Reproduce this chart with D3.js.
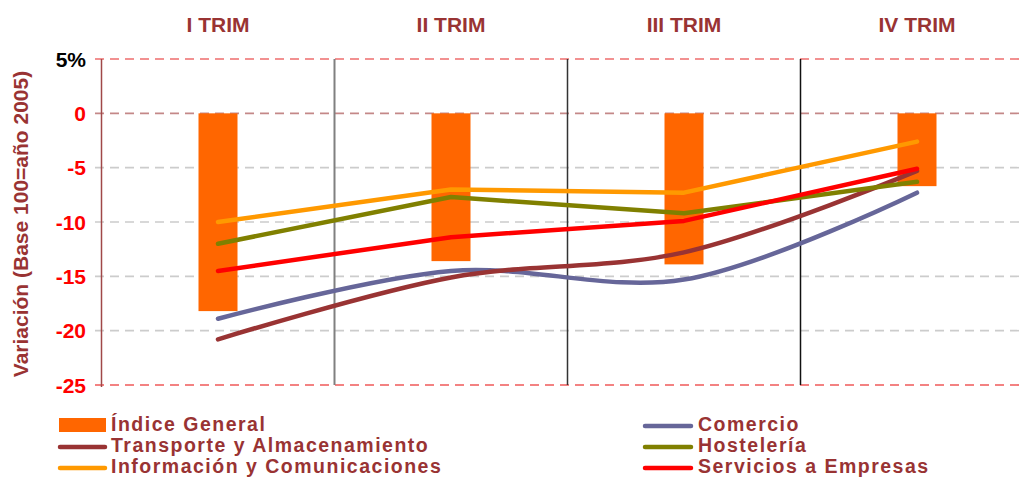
<!DOCTYPE html>
<html><head><meta charset="utf-8">
<script src="https://cdn.jsdelivr.net/npm/d3@7"></script>
<style>
html,body{margin:0;padding:0;background:#fff;}
svg{display:block;font-family:"Liberation Sans",Arial,sans-serif;font-weight:bold;}
</style></head>
<body>
<svg id="chart" width="1021" height="477"></svg>
<script>
const categories = ["I TRIM", "II TRIM", "III TRIM", "IV TRIM"];
const yTicks = [5, 0, -5, -10, -15, -20, -25];
const yTickLabels = ["5%", "0", "-5", "-10", "-15", "-20", "-25"];
const indiceGeneral = [-18.2, -13.6, -13.9, -6.7];
const comercio = [-18.9, -14.5, -15.3, -7.3];
const transporte = [-20.8, -15.1, -12.8, -5.3];
const hosteleria = [-12.0, -7.7, -9.2, -6.3];
const informacion = [-10.0, -7.0, -7.3, -2.6];
const servicios = [-14.5, -11.4, -9.9, -5.1];
const yTitle = "Variación (Base 100=año 2005)";

const series = [
  {name: "Comercio", values: comercio, color: "#666699", smooth: true},
  {name: "Transporte y Almacenamiento", values: transporte, color: "#993333", smooth: true},
  {name: "Hostelería", values: hosteleria, color: "#808000", smooth: false},
  {name: "Información y Comunicaciones", values: informacion, color: "#FF9900", smooth: false},
  {name: "Servicios a Empresas", values: servicios, color: "#FF0000", smooth: false}
];

const svg = d3.select("#chart");
const left = 101.5, bandW = 233;
const x = d3.scaleBand().domain(categories).range([left, left + bandW * categories.length]);
const y = d3.scaleLinear().domain([-25, 5]).range([385, 59]);
const cx = c => x(c) + x.bandwidth() / 2;

// gridlines
const gridColor = v => v === 5 ? "#EE6E6E" : v === 0 ? "#C48888" : v === -25 ? "#F05A5A" : "#CCCCCC";
svg.append("g").selectAll("line").data(yTicks).join("line")
  .attr("x1", 95).attr("x2", 1021)
  .attr("y1", d => y(d)).attr("y2", d => y(d))
  .attr("stroke", d => gridColor(d)).attr("stroke-width", 1.6)
  .attr("stroke-dasharray", "9,6");

// category separators
const sepColors = ["#808080", "#333333", "#111111"];
svg.append("g").selectAll("line").data(categories.slice(1)).join("line")
  .attr("x1", d => x(d)).attr("x2", d => x(d))
  .attr("y1", y(5)).attr("y2", y(-25))
  .attr("stroke", (d, i) => sepColors[i]).attr("stroke-width", (d, i) => i === 0 ? 2 : 1.5);

// y axis line
svg.append("line").attr("x1", left).attr("x2", left).attr("y1", y(5)).attr("y2", y(-25) + 2)
  .attr("stroke", "#A04848").attr("stroke-width", 1.5);

// tick labels
svg.append("g").selectAll("text").data(yTicks).join("text")
  .attr("x", 86).attr("y", d => y(d)).attr("dy", "0.36em")
  .attr("text-anchor", "end").attr("font-size", 21)
  .attr("fill", (d, i) => i === 0 ? "#000000" : "#FF0000")
  .text((d, i) => yTickLabels[i]);

// y title
svg.append("text").attr("transform", "translate(28,224) rotate(-90)")
  .attr("text-anchor", "middle").attr("font-size", 21).attr("fill", "#993333")
  .text(yTitle);

// top category labels
svg.append("g").selectAll("text").data(categories).join("text")
  .attr("x", d => cx(d)).attr("y", 31.5).attr("text-anchor", "middle")
  .attr("font-size", 21).attr("fill", "#993333").text(d => d);

// bars
const barW = 39;
svg.append("g").selectAll("rect").data(categories).join("rect")
  .attr("x", d => cx(d) - barW / 2).attr("width", barW)
  .attr("y", y(0)).attr("height", (d, i) => y(indiceGeneral[i]) - y(0))
  .attr("fill", "#FF6600");

// lines
series.forEach(s => {
  const line = d3.line()
    .x((d, i) => cx(categories[i])).y(d => y(d))
    .curve(s.smooth ? d3.curveCatmullRom.alpha(0.5) : d3.curveLinear);
  svg.append("path").datum(s.values).attr("d", line)
    .attr("fill", "none").attr("stroke", s.color).attr("stroke-width", 4.5)
    .attr("stroke-linecap", "round").attr("stroke-linejoin", "round");
});

// legend
const legendItems = [
  {name: "Índice General", type: "bar", color: "#FF6600", col: 0, row: 0},
  {name: "Transporte y Almacenamiento", type: "line", color: "#993333", col: 0, row: 1},
  {name: "Información y Comunicaciones", type: "line", color: "#FF9900", col: 0, row: 2},
  {name: "Comercio", type: "line", color: "#666699", col: 1, row: 0},
  {name: "Hostelería", type: "line", color: "#808000", col: 1, row: 1},
  {name: "Servicios a Empresas", type: "line", color: "#FF0000", col: 1, row: 2}
];
const colX = [[59, 106, 111], [644, 692, 698]];
const rowBase = [431, 452, 473];
const lg = svg.append("g");
legendItems.forEach(it => {
  const cxs = colX[it.col], b = rowBase[it.row];
  if (it.type === "bar") {
    lg.append("rect").attr("x", cxs[0]).attr("y", b - 13).attr("width", cxs[1] - cxs[0]).attr("height", 14)
      .attr("fill", it.color);
  } else {
    lg.append("line").attr("x1", cxs[0] + 1).attr("x2", cxs[1] - 1).attr("y1", b - 5).attr("y2", b - 5)
      .attr("stroke", it.color).attr("stroke-width", 4.5).attr("stroke-linecap", "round");
  }
  lg.append("text").attr("x", cxs[2]).attr("y", b).attr("font-size", 19.5)
    .attr("letter-spacing", "1.5px").attr("fill", "#993333").text(it.name);
});
</script>
</body></html>
